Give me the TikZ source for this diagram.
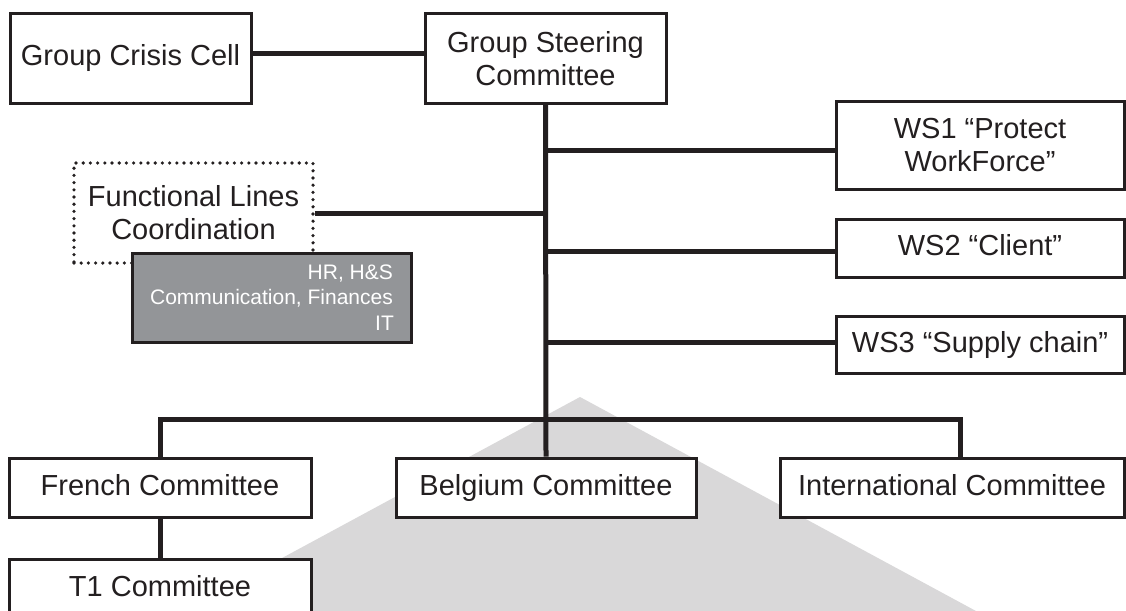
\documentclass[tikz,border=0pt]{standalone}
\usepackage{fontspec}
\setmainfont{Liberation Sans}
\usepackage{tikz}
\usetikzlibrary{shapes,arrows}
\definecolor{ink}{HTML}{231F20}
\definecolor{midgray}{HTML}{939598}
\definecolor{lightgray}{HTML}{D9D8D9}
\tikzstyle{line} = [draw=ink, line width=5pt]
\tikzstyle{box} = [rectangle, draw=ink, fill=white, line width=3pt, inner sep=0pt, align=center, text=ink, font=\fontsize{29}{33}\selectfont]
\tikzstyle{single} = [text height=21pt, text depth=6pt]
\tikzstyle{dots} = [rectangle, draw=ink, line width=3.6pt, line cap=round, dash pattern=on 0pt off 7.2pt, inner sep=0pt, align=center, text=ink, font=\fontsize{29}{33}\selectfont]
\tikzstyle{func} = [rectangle, draw=ink, fill=midgray, line width=3pt, inner sep=0pt, align=right, text=white, font=\fontsize{21}{25.5}\selectfont]

\begin{document}
\begin{tikzpicture}[x=1pt, y=-1pt]
	\useasboundingbox (0,0) rectangle (1126,610);
	\clip (0,0) rectangle (1126,610);
	\fill [white] (0,0) rectangle (1126,610);
	\fill [lightgray] (580,397) -- (1000,624) -- (160,624) -- cycle;
	
	\node [box, single, minimum width=241, minimum height=89] (gcc) at (130.5,58.5) {Group Crisis Cell};
	\node [box, minimum width=241, minimum height=89] (gsc) at (545.5,58.5) {Group Steering\\Committee};
	\path [line] ([yshift=4.5pt]gcc.east) to ([yshift=4.5pt]gsc.west);
	
	\node [box, minimum width=288, minimum height=88] (ws1) at (980,145) {WS1 “Protect\\WorkForce”};
	\node [box, single, minimum width=288, minimum height=58] (ws2) at (980,248) {WS2 “Client”};
	\node [box, single, minimum width=288, minimum height=57] (ws3) at (980,344.5) {WS3 “Supply chain”};
	
	\node [dots, minimum width=239, minimum height=100] (flc) at (193.5,213) {Functional Lines\\Coordination};
	\node [func, minimum width=279, minimum height=89] (lines) at (271.5,297.5) {HR, H\&S\\Communication, Finances\\IT\hspace*{-1pt}};
	
	\node [box, single, minimum width=302, minimum height=59] (french) at (160,487.5) {French Committee};
	\node [box, single, minimum width=300, minimum height=59] (belgium) at (546,487.5) {Belgium Committee};
	\node [box, single, minimum width=344, minimum height=59] (intl) at (952,487.5) {International Committee};
	\node [box, single, minimum width=302, minimum height=59] (t1) at (160,588.5) {T1 Committee};
	
	\coordinate (bus) at (546,419);
	\path [line] (gsc.south) to (belgium.north);
	\path [line] ([yshift=-5pt]gsc.south |- ws1.west) to ([yshift=-5pt]ws1.west);
	\path [line] (gsc.south |- flc.east) to (flc.east);
	\path [line] ([yshift=-3pt]gsc.south |- ws2.west) to ([yshift=-3pt]ws2.west);
	\path [line] ([yshift=2.5pt]gsc.south |- ws3.west) to ([yshift=2.5pt]ws3.west);
	\draw [line] (french.north) |- ([xshift=8pt]intl.north |- bus) -- ([xshift=8pt]intl.north);
	\path [line] (french.south) to (t1.north);
\end{tikzpicture}
\end{document}
